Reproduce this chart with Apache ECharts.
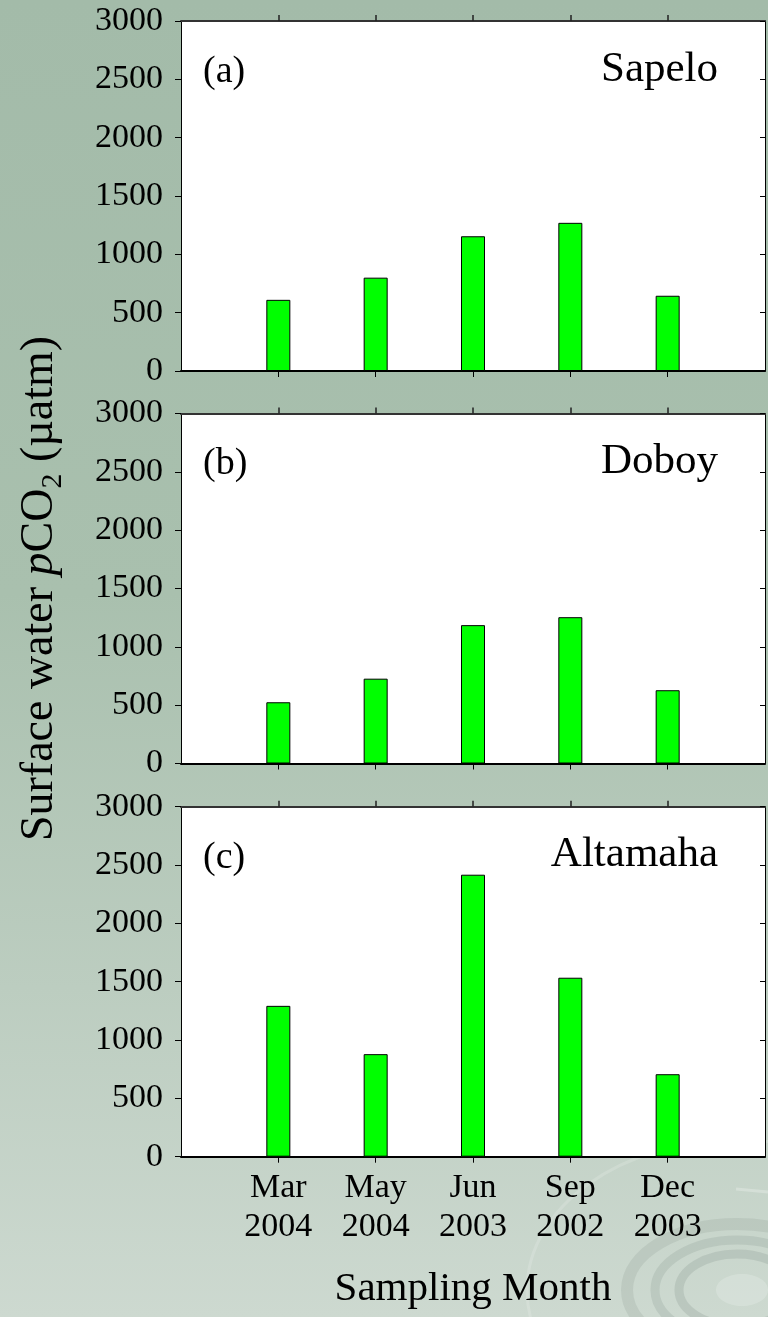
<!DOCTYPE html>
<html>
<head>
<meta charset="utf-8">
<script src="https://cdn.jsdelivr.net/npm/echarts@6/dist/echarts.min.js"></script>
<style>
html,body{margin:0;padding:0;}
#chart{width:768px;height:1317px;}
</style>
</head>
<body>
<div id="chart"></div>
<script>
// ---- data ----
const categories = ['', 'Mar\n2004', 'May\n2004', 'Jun\n2003', 'Sep\n2002', 'Dec\n2003', ''];
const sapelo   = [null, 610, 800, 1155, 1270, 645, null];
const doboy    = [null, 525, 727, 1186, 1254, 628, null];
const altamaha = [null, 1293, 879, 2417, 1534, 707, null];
const panelTags = ['(a)', '(b)', '(c)'];
const panelNames = ['Sapelo', 'Doboy', 'Altamaha'];
const yTicks = [0, 500, 1000, 1500, 2000, 2500, 3000];

const FONT = "'Liberation Serif','Times New Roman',serif";
const panels = [sapelo, doboy, altamaha];
const tops = [21, 413.5, 806.7];
const H = 350;

const chart = echarts.init(document.getElementById('chart'), null, {renderer: 'canvas'});

const grid = [], xAxis = [], yAxis = [], series = [], graphic = [];

// background ripples (decoration)
const rcx = 737, rcy = 1290;
[[210, 150, 'rgba(255,255,255,0.16)', 3],
 [110, 66, 'rgba(140,156,146,0.22)', 12],
 [82, 50, 'rgba(140,156,146,0.25)', 9],
 [58, 36, 'rgba(140,156,146,0.28)', 9]].forEach(r => {
  graphic.push({type: 'ellipse', z: -10, silent: true,
    shape: {cx: rcx, cy: rcy, rx: r[0], ry: r[1]},
    style: {fill: 'none', stroke: r[2], lineWidth: r[3]}});
});
graphic.push({type: 'ellipse', z: -10, silent: true,
  shape: {cx: rcx + 5, cy: rcy, rx: 26, ry: 16},
  style: {fill: 'rgba(225,232,227,0.45)'}});
graphic.push({type: 'line', z: -10, silent: true,
  shape: {x1: 736, y1: 1189, x2: 768, y2: 1192},
  style: {stroke: 'rgba(255,255,255,0.25)', lineWidth: 3}});

const tickShow = (idx) => idx > 0 && idx < categories.length - 1;

panels.forEach((vals, i) => {
  grid.push({left: 181, right: 3, top: tops[i], height: H, show: true,
    backgroundColor: '#ffffff', borderWidth: 0, containLabel: false, outerBoundsMode: 'none'});
  const last = i === 2;
  // bottom category axis
  xAxis.push({type: 'category', gridIndex: i, data: categories, boundaryGap: false,
    position: 'bottom',
    axisLine: {show: true, onZero: false, lineStyle: {color: '#000', width: 2}},
    axisTick: {show: true, inside: false, length: 6, lineStyle: {color: '#000', width: 1},
      interval: tickShow},
    axisLabel: {show: last, color: '#000', fontFamily: FONT, fontSize: 34, lineHeight: 39,
      margin: 12, interval: 0},
    splitLine: {show: false},
    name: last ? 'Sampling Month' : '', nameLocation: 'middle', nameGap: 112,
    nameTextStyle: {color: '#000', fontFamily: FONT, fontSize: 41}
  });
  // top category axis (ticks only)
  xAxis.push({type: 'category', gridIndex: i, data: categories, boundaryGap: false,
    position: 'top',
    axisLine: {show: true, onZero: false, lineStyle: {color: '#333', width: 2}},
    axisTick: {show: true, inside: false, length: 6, lineStyle: {color: '#222', width: 1.5},
      interval: tickShow},
    axisLabel: {show: true, interval: 0, formatter: () => '', margin: 2},
    splitLine: {show: false}
  });
  // left value axis
  yAxis.push({type: 'value', gridIndex: i, min: 0, max: 3000, interval: 500, position: 'left',
    axisLine: {show: true, lineStyle: {color: '#000', width: 1}},
    axisTick: {show: true, inside: false, length: 6, lineStyle: {color: '#000', width: 1}},
    axisLabel: {show: true, color: '#000', fontFamily: FONT, fontSize: 34, margin: 18,
      formatter: (v) => yTicks.indexOf(v) >= 0 ? String(v) : ''},
    splitLine: {show: false},
    name: i === 1 ? '{n|Surface water }{i|p}{n|CO}{s|2}{n| (\u00b5atm)}' : '',
    nameLocation: 'middle', nameGap: 113, nameRotate: 90,
    nameTextStyle: {color: '#000', fontFamily: FONT,
      rich: {
        n: {fontFamily: FONT, fontSize: 46, color: '#000', lineHeight: 56, verticalAlign: 'middle'},
        i: {fontFamily: FONT, fontSize: 46, fontStyle: 'italic', color: '#000', lineHeight: 56, verticalAlign: 'middle'},
        s: {fontFamily: FONT, fontSize: 30, color: '#000', lineHeight: 56, verticalAlign: 'bottom'}
      }}
  });
  // right value axis (ticks inside)
  yAxis.push({type: 'value', gridIndex: i, min: 0, max: 3000, interval: 500, position: 'right',
    axisLine: {show: true, lineStyle: {color: '#000', width: 1}},
    axisTick: {show: true, inside: true, length: 5, lineStyle: {color: '#000', width: 1}},
    axisLabel: {show: false}, splitLine: {show: false}
  });
  series.push({type: 'bar', xAxisIndex: i * 2, yAxisIndex: i * 2, data: vals,
    barWidth: 24, itemStyle: {color: '#00ff00', borderColor: '#000', borderWidth: 1},
    silent: true, animation: false});

  graphic.push({type: 'text', left: 203, top: tops[i] + 32, z: 100,
    style: {text: panelTags[i], font: '38px ' + FONT, fill: '#000'}});
  graphic.push({type: 'text', right: 50, top: tops[i] + 27, z: 100,
    style: {text: panelNames[i], font: '43px ' + FONT, fill: '#000'}});
});

chart.setOption({
  animation: false,
  backgroundColor: {type: 'linear', x: 0, y: 0, x2: 0, y2: 1,
    colorStops: [{offset: 0, color: '#a3bba9'}, {offset: 0.45, color: '#a9c0ae'},
                 {offset: 0.75, color: '#bccdc0'}, {offset: 1, color: '#cdd9d0'}]},
  grid, xAxis, yAxis, series, graphic
});
</script>
</body>
</html>
